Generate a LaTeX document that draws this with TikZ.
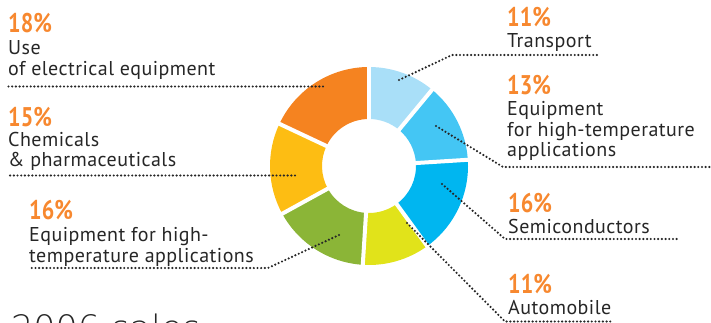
\documentclass[tikz,border=0pt]{standalone}
\usepackage{fontspec}
\setmainfont{PT Sans}[LetterSpace=2.3]
\newfontfamily\pctfont[FakeStretch=0.82]{PT Sans Bold}
\newfontfamily\thinfont{DejaVu Sans ExtraLight}
\definecolor{txt}{HTML}{262626}
\definecolor{pct}{HTML}{F7882F}
\definecolor{cLB}{HTML}{A9DFF8}
\definecolor{cMB}{HTML}{44C6F4}
\definecolor{cSB}{HTML}{00B6F0}
\definecolor{cYG}{HTML}{E1E31A}
\definecolor{cGR}{HTML}{8BB537}
\definecolor{cYE}{HTML}{FDBD13}
\definecolor{cOR}{HTML}{F58320}
\tikzset{
  pcttext/.style={anchor=base west, inner sep=0pt, text=pct, font=\pctfont\fontsize{27}{27}\selectfont},
  lbltext/.style={anchor=base west, inner sep=0pt, text=txt, font=\fontsize{20}{21}\selectfont},
  dotline/.style={draw=txt, line width=2.4pt, line cap=round, dash pattern=on 0pt off 3.7pt},
  gapline/.style={draw=white, line width=4pt},
}
\begin{document}
\begin{tikzpicture}[x=1pt,y=-1pt]
\useasboundingbox (0,0) rectangle (711,323);
\clip (0,0) rectangle (711,323);
% donut
\begin{scope}[shift={(369,166)},x=1pt,y=1pt]
  \def\Ro{99}\def\Ri{47}
  \foreach \a/\b/\c in {90/50.4/cLB, 50.4/3.6/cMB, 3.6/-54/cSB, -54/-93.6/cYG, -93.6/-151.2/cGR, -151.2/-205.2/cYE, -205.2/-270/cOR}{
    \fill[\c] (\a:\Ro) arc[start angle=\a, end angle=\b, radius=\Ro] -- (\b:\Ri) arc[start angle=\b, end angle=\a, radius=\Ri] -- cycle;
  }
  \foreach \a in {90,50.4,3.6,-54,-93.6,-151.2,-205.2}{
    \draw[gapline] (\a:\Ri-2) -- (\a:\Ro+2);
  }
\end{scope}
% labels left
\node[pcttext] (p1) at (8,33) {18\%};
\node[lbltext] (t1a) at (8,55) {Use};
\node[lbltext] (t1b) at (8,76) {of electrical equipment};
\node[pcttext] (p2) at (8,127) {15\%};
\node[lbltext] (t2a) at (8,147) {Chemicals};
\node[lbltext] (t2b) at (8,167) {\& pharmaceuticals};
\node[pcttext] (p3) at (29,219) {16\%};
\node[lbltext] (t3a) at (29,241) {Equipment for high-};
\node[lbltext] (t3b) at (29,262) {temperature applications};
% labels right
\node[pcttext] (p4) at (507,27) {11\%};
\node[lbltext] (t4) at (507,48) {Transport};
\node[pcttext] (p5) at (507,95) {13\%};
\node[lbltext] (t5a) at (507,116) {Equipment};
\node[lbltext] (t5b) at (507,137) {for high-temperature};
\node[lbltext] (t5c) at (507,157) {applications};
\node[pcttext] (p6) at (508,212) {16\%};
\node[lbltext] (t6) at (508,233) {Semiconductors};
\node[pcttext] (p7) at (508,293) {11\%};
\node[lbltext] (t7) at (508,314) {Automobile};
% title (cut off at the lower edge, as in the source)
\node[anchor=base west, inner sep=0pt, text=txt, font=\thinfont\fontsize{35}{35}\selectfont] (title) at (11,340) {2006 sales};
% connector coordinates
\coordinate (d1) at (323,86.5); \coordinate (e1) at (8,86.5);
\coordinate (d2) at (295,175.5); \coordinate (e2) at (8,175.5);
\coordinate (d3) at (339,235); \coordinate (k3) at (268,268); \coordinate (e3) at (29,268);
\coordinate (d4) at (399,80); \coordinate (k4) at (452,55); \coordinate (e4) at (598,55);
\coordinate (d5) at (436,126); \coordinate (k5) at (503,167); \coordinate (e5) at (711,167);
\coordinate (d6) at (442,184); \coordinate (k6) at (505,239); \coordinate (e6) at (678,239);
\coordinate (d7) at (407,223); \coordinate (k7) at (505,321.5); \coordinate (e7) at (613,321.5);
\draw[dotline] (d1) -- (e1);
\draw[dotline] (d2) -- (e2);
\draw[dotline] (d3) -- (k3) -- (e3);
\draw[dotline] (d4) -- (k4) -- (e4);
\draw[dotline] (d5) -- (k5) -- (e5);
\draw[dotline] (d6) -- (k6) -- (e6);
\draw[dotline] (d7) -- (k7) -- (e7);
\end{tikzpicture}
\end{document}
